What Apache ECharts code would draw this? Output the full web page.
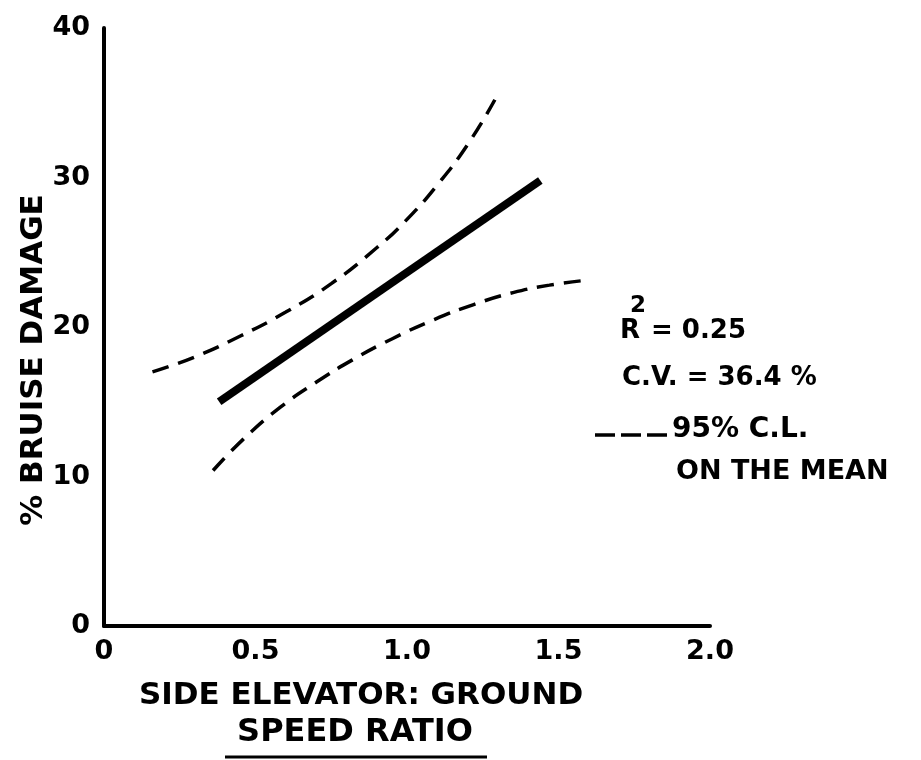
<!DOCTYPE html>
<html><head><meta charset="utf-8">
<script src="https://cdn.jsdelivr.net/npm/echarts@6/dist/echarts.min.js"></script>
<style>html,body{margin:0;padding:0;background:#fff}#c{width:921px;height:760px}</style>
</head><body><div id="c"></div>
<script>
// ---- data ----
const xTickLabels = ['0', '0.5', '1.0', '1.5', '2.0'];
const yTickLabels = ['0', '10', '20', '30', '40'];
// regression (mean) line
const meanX = [0.38, 1.44];
const meanY = [15.0, 29.8];
// upper 95% confidence limit
const upperX = [0.16, 0.30, 0.45, 0.60, 0.75, 0.90, 1.00, 1.10, 1.20, 1.29];
const upperY = [17.0, 18.0, 19.4, 21.0, 22.9, 25.3, 27.2, 29.5, 32.2, 35.2];
// lower 95% confidence limit
const lowerX = [0.36, 0.46, 0.58, 0.70, 0.82, 0.95, 1.09, 1.22, 1.35, 1.47, 1.58];
const lowerY = [10.4, 12.5, 14.6, 16.3, 17.8, 19.2, 20.5, 21.5, 22.3, 22.8, 23.1];
const annR2 = '= 0.25';
const annCV = 'C.V. = 36.4 %';
const annCL1 = '95% C.L.';
const annCL2 = 'ON THE MEAN';
const xTitle1 = 'SIDE ELEVATOR: GROUND';
const xTitle2 = 'SPEED RATIO';
const yTitle = '% BRUISE DAMAGE';

const zip = (xs, ys) => xs.map((x, i) => [x, ys[i]]);
const FONT = 'DejaVu Sans';
const chart = echarts.init(document.getElementById('c'), null, {renderer: 'canvas'});
const txt = (x, y, text, size, align) => ({
  type: 'text', x: x, y: y,
  style: {text: text, fill: '#000', font: 'bold ' + size + 'px "' + FONT + '"', textAlign: align || 'left', textVerticalAlign: 'middle'}
});

chart.setOption({
  backgroundColor: '#fff',
  animation: false,
  grid: {left: 104, top: 28, width: 606, height: 598, containLabel: false},
  xAxis: {
    type: 'value', min: 0, max: 2, interval: 0.5,
    axisLine: {show: true, lineStyle: {color: '#000', width: 4}},
    axisTick: {show: false}, splitLine: {show: false},
    axisLabel: {color: '#000', fontFamily: FONT, fontWeight: 'bold', fontSize: 27, margin: 12,
      formatter: v => xTickLabels[Math.round(v / 0.5)]}
  },
  yAxis: {
    type: 'value', min: 0, max: 40, interval: 10,
    axisLine: {show: true, lineStyle: {color: '#000', width: 4}},
    axisTick: {show: false}, splitLine: {show: false},
    axisLabel: {color: '#000', fontFamily: FONT, fontWeight: 'bold', fontSize: 27, margin: 14,
      formatter: v => yTickLabels[Math.round(v / 10)]}
  },
  series: [
    {type: 'line', data: zip(meanX, meanY), symbol: 'none',
      lineStyle: {color: '#000', width: 8, cap: 'butt'}},
    {type: 'line', data: zip(upperX, upperY), symbol: 'none', smooth: 0.5,
      lineStyle: {color: '#000', width: 3.5, type: [17, 10]}},
    {type: 'line', data: zip(lowerX, lowerY), symbol: 'none', smooth: 0.5,
      lineStyle: {color: '#000', width: 3.5, type: [17, 10]}}
  ],
  graphic: [
    txt(620, 331, 'R', 26),
    txt(630, 306, '2', 23),
    txt(651, 331, annR2, 26),
    txt(622, 378, annCV, 26),
    {type: 'line', shape: {x1: 595, y1: 435, x2: 667, y2: 435},
      style: {stroke: '#000', lineWidth: 3.5, lineDash: [20, 6]}},
    txt(672, 430, annCL1, 28),
    txt(676, 472, annCL2, 27),
    txt(361, 696, xTitle1, 31, 'center'),
    txt(355, 733, xTitle2, 32, 'center'),
    {type: 'line', shape: {x1: 225, y1: 757, x2: 487, y2: 757},
      style: {stroke: '#000', lineWidth: 3}},
    {type: 'text', x: 34, y: 360, rotation: Math.PI / 2,
      style: {text: yTitle, fill: '#000', font: 'bold 31px "' + FONT + '"', textAlign: 'center', textVerticalAlign: 'middle'}}
  ]
});
</script></body></html>
